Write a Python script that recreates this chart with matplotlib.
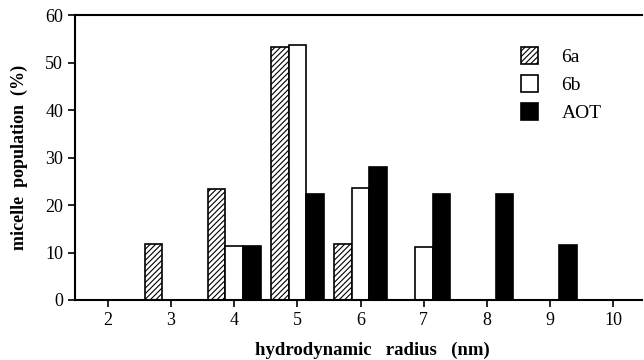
import numpy as np
import matplotlib.pyplot as plt

plt.rcParams['font.family'] = ['Liberation Serif', 'DejaVu Serif']
plt.rcParams['hatch.linewidth'] = 0.8

radius = [2, 3, 4, 5, 6, 7, 8, 9, 10]
pop_6a = [0, 11.7, 23.3, 53.3, 11.7, 0, 0, 0, 0]
pop_6b = [0, 0, 11.3, 53.7, 23.5, 11.2, 0, 0, 0]
pop_aot = [0, 0, 11.3, 22.3, 28.0, 22.3, 22.3, 11.5, 0]

x = np.array(radius)
w = 0.28

fig = plt.figure(figsize=(6.44, 3.6), dpi=100)
ax = fig.add_axes([0.1165, 0.1667, 0.88, 0.7913])

ax.bar(x - w, pop_6a, w, color='white', edgecolor='black', hatch='//////', linewidth=1.2, label='6a')
ax.bar(x, pop_6b, w, color='white', edgecolor='black', linewidth=1.2, label='6b')
ax.bar(x + w, pop_aot, w, color='black', edgecolor='black', linewidth=1.2, label='AOT')

ax.set_xlim(1.48, 10.45)
ax.set_ylim(0, 60)
ax.set_xticks(radius)
ax.set_yticks([0, 10, 20, 30, 40, 50, 60])
ax.tick_params(direction='out', length=5, width=1.2, labelsize=13)
for s in ['left', 'bottom', 'top']:
    ax.spines[s].set_linewidth(1.5)
ax.spines['right'].set_visible(False)

ax.set_xlabel('hydrodynamic   radius   (nm)', fontsize=13.5, fontweight='bold')
ax.xaxis.set_label_coords(0.525, -0.145)
ax.set_ylabel('micelle  population  (%)', fontsize=13, fontweight='bold')
ax.yaxis.set_label_coords(-0.083, 0.5)

ax.legend(loc='upper right', bbox_to_anchor=(0.96, 0.95), frameon=False, fontsize=14,
          handlelength=0.9, handleheight=1.0, handletextpad=1.2, labelspacing=0.45)

plt.savefig('out.png', dpi=100)
